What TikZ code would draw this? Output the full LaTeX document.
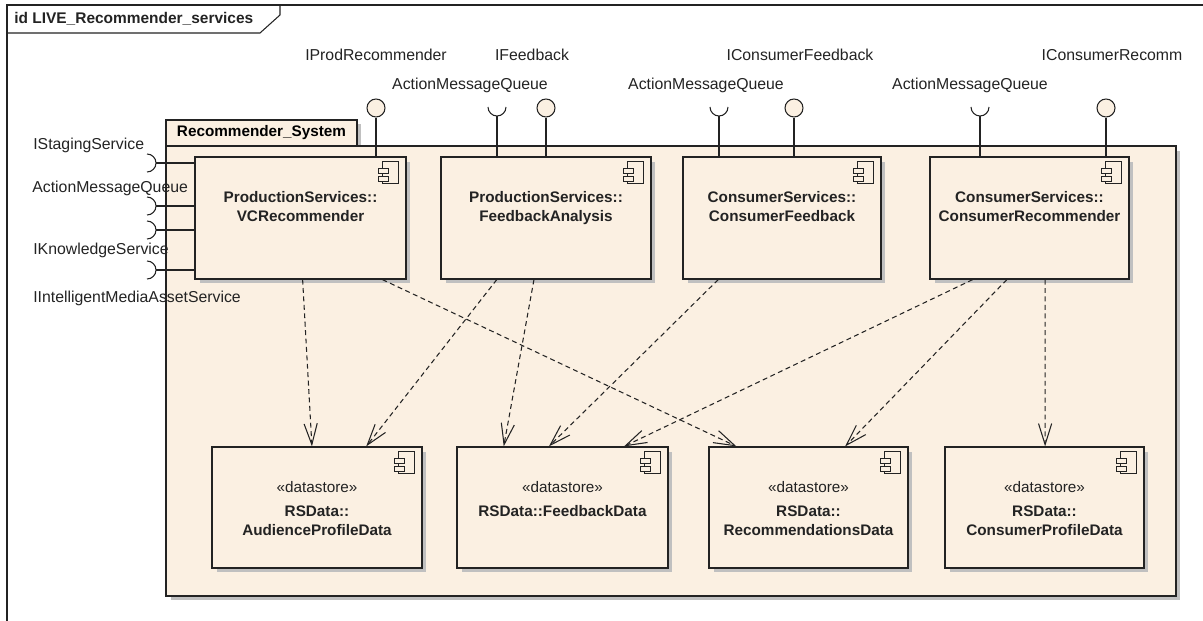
\documentclass[tikz,border=0pt]{standalone}
\usepackage{fontspec}
\setmainfont{Liberation Sans}
\usetikzlibrary{positioning, arrows.meta, shadows, calc}

\definecolor{umlfill}{RGB}{251,240,226}
\definecolor{umlline}{RGB}{35,35,35}
\definecolor{umlshadow}{RGB}{192,192,192}

% small component glyph in the top right corner of a box
\newcommand{\compicon}[1]{%
  \draw[icon] ([shift={(-24,5)}]#1.north east) rectangle ++(16,22);
  \draw[icon] ([shift={(-28,12)}]#1.north east) rectangle ++(10,5);
  \draw[icon] ([shift={(-28,20)}]#1.north east) rectangle ++(10,5);
}

\begin{document}
\begin{tikzpicture}[
    x=0.02cm, y=-0.02cm,
    shade box/.style={
      drop shadow={shadow xshift=0.09cm, shadow yshift=-0.09cm,
                   fill=umlshadow, opacity=1},
    },
    pkg/.style={
      draw=umlline, fill=umlfill, line width=0.7pt,
      rectangle, inner sep=0pt, shade box,
    },
    comp/.style={pkg, minimum height=2.44cm},
    store/.style={pkg, minimum height=2.42cm},
    comptext/.style={
      font=\fontsize{8.7}{10.8}\selectfont\bfseries, align=center,
      inner sep=0pt, text=umlline,
    },
    iflabel/.style={font=\fontsize{9}{10}\selectfont, inner sep=0pt, text=umlline},
    boldlabel/.style={iflabel, font=\fontsize{8.8}{10}\selectfont\bfseries},
    icon/.style={draw=umlline, fill=umlfill, line width=0.55pt},
    lolli/.style={
      circle, draw=umlline, fill=umlfill, line width=0.6pt,
      minimum size=0.36cm, inner sep=0pt,
    },
    wire/.style={draw=umlline, line width=0.6pt},
    frame/.style={draw=umlline, line width=0.6pt},
    dep/.style={
      umlline, line width=0.6pt, dash pattern=on 2.8pt off 2pt,
      -{Straight Barb[length=12pt, width=7.5pt]},
    },
]
\useasboundingbox (0,0) rectangle (1203,621);

% Diagram frame with its name tab
\draw[frame] (1203,5) -- (7,5) -- (7,621);
\draw[frame] (7,33) -- (260,33) -- (280,15) -- (280,5);
\node[boldlabel, anchor=west] (title) at (14,19) {id LIVE\_Recommender\_services};

% Package
\node[pkg, font=\fontsize{8.7}{10}\selectfont\bfseries,
      minimum width=3.82cm, minimum height=0.52cm] (sys-tab) at (261.5,133)
    {Recommender\_System};
\node[pkg, minimum width=20.2cm, minimum height=9cm] (sys) at (671,371) {};

% Service components
\node[comp, minimum width=4.22cm] (vcr) at (300.5,218) {};
\node[comptext, below=0.69cm of vcr.north] (vcr-name)
    {ProductionServices::\\VCRecommender};
\compicon{vcr}

\node[comp, minimum width=4.2cm] (fa) at (546,218) {};
\node[comptext, below=0.69cm of fa.north] (fa-name)
    {ProductionServices::\\FeedbackAnalysis};
\compicon{fa}

\node[comp, minimum width=3.96cm] (cf) at (782,218) {};
\node[comptext, below=0.69cm of cf.north] (cf-name)
    {ConsumerServices::\\ConsumerFeedback};
\compicon{cf}

\node[comp, minimum width=3.98cm] (cr) at (1029.5,218) {};
\node[comptext, below=0.69cm of cr.north] (cr-name)
    {ConsumerServices::\\ConsumerRecommender};
\compicon{cr}

% Datastores
\node[store, minimum width=4.2cm] (apd) at (317,507.5) {};
\node[comptext, below=0.69cm of apd.north] (apd-name)
    {{\mdseries «datastore»}\\[2.8pt]RSData::\\AudienceProfileData};
\compicon{apd}

\node[store, minimum width=4.22cm] (fd) at (562.5,507.5) {};
\node[comptext, below=0.69cm of fd.north] (fd-name)
    {{\mdseries «datastore»}\\[2.8pt]RSData::FeedbackData};
\compicon{fd}

\node[store, minimum width=3.98cm] (rd) at (808.5,507.5) {};
\node[comptext, below=0.69cm of rd.north] (rd-name)
    {{\mdseries «datastore»}\\[2.8pt]RSData::\\RecommendationsData};
\compicon{rd}

\node[store, minimum width=3.98cm] (cpd) at (1044.5,507.5) {};
\node[comptext, below=0.69cm of cpd.north] (cpd-name)
    {{\mdseries «datastore»}\\[2.8pt]RSData::\\ConsumerProfileData};
\compicon{cpd}

% Provided interfaces (lollipops)
\node[lolli] (vcr-prov) at (376,108) {};
\node[lolli] (fa-prov)  at (546,108) {};
\node[lolli] (cf-prov)  at (794,108) {};
\node[lolli] (cr-prov)  at (1106,108) {};
\draw[wire] (vcr-prov) -- (vcr-prov |- vcr.north);
\draw[wire] (fa-prov)  -- (fa-prov |- fa.north);
\draw[wire] (cf-prov)  -- (cf-prov |- cf.north);
\draw[wire] (cr-prov)  -- (cr-prov |- cr.north);

\node[iflabel] (vcr-prov-l) at (376,55)  {IProdRecommender};
\node[iflabel] (fa-prov-l)  at (532,55)  {IFeedback};
\node[iflabel] (cf-prov-l)  at (800,55)  {IConsumerFeedback};
\node[iflabel] (cr-prov-l)  at (1112,55) {IConsumerRecomm};

% Required interfaces on top (sockets)
\coordinate (fa-req) at (497,116);
\coordinate (cf-req) at (719,116);
\coordinate (cr-req) at (980,116);
\foreach \s/\c in {fa-req/fa, cf-req/cf, cr-req/cr} {
  \draw[wire] (\s) ++(9,-9) arc[start angle=0, end angle=180, radius=9];
  \draw[wire] (\s) -- (\s |- \c.north);
}
\node[iflabel] (fa-req-l) at (470,85) {ActionMessageQueue};
\node[iflabel] (cf-req-l) at (706,85) {ActionMessageQueue};
\node[iflabel] (cr-req-l) at (970,85) {ActionMessageQueue};

% Required interfaces on the left of VCRecommender
\coordinate (vcr-req1) at (156,163);
\coordinate (vcr-req2) at (156,206);
\coordinate (vcr-req3) at (156,230);
\coordinate (vcr-req4) at (156,270);
\foreach \s in {vcr-req1, vcr-req2, vcr-req3, vcr-req4} {
  \draw[wire] (\s) ++(-9,9) arc[start angle=90, end angle=-90, radius=9];
  \draw[wire] (\s) -- (\s -| vcr.west);
}
\node[iflabel, anchor=west] (vcr-req1-l) at (33,145) {IStagingService};
\node[iflabel, anchor=west] (vcr-req2-l) at (32,188) {ActionMessageQueue};
\node[iflabel, anchor=west] (vcr-req4-l) at (33,250) {IKnowledgeService};
\node[iflabel, anchor=west] (vcr-req5-l) at (33,298) {IIntelligentMediaAssetService};

% Dependencies on the datastores
\draw[dep] ($(vcr.south west)!.51!(vcr.south east)$) -- ($(apd.north west)!.476!(apd.north east)$);
\draw[dep] ($(vcr.south west)!.886!(vcr.south east)$) -- ($(rd.north west)!.14!(rd.north east)$);
\draw[dep] ($(fa.south west)!.267!(fa.south east)$) -- ($(apd.north west)!.733!(apd.north east)$);
\draw[dep] ($(fa.south west)!.443!(fa.south east)$) -- ($(fd.north west)!.223!(fd.north east)$);
\draw[dep] ($(cf.south west)!.18!(cf.south east)$) -- ($(fd.north west)!.436!(fd.north east)$);
\draw[dep] ($(cr.south west)!.216!(cr.south east)$) -- ($(fd.north west)!.79!(fd.north east)$);
\draw[dep] ($(cr.south west)!.387!(cr.south east)$) -- ($(rd.north west)!.683!(rd.north east)$);
\draw[dep] ($(cr.south west)!.578!(cr.south east)$) -- ($(cpd.north west)!.503!(cpd.north east)$);
\end{tikzpicture}
\end{document}
